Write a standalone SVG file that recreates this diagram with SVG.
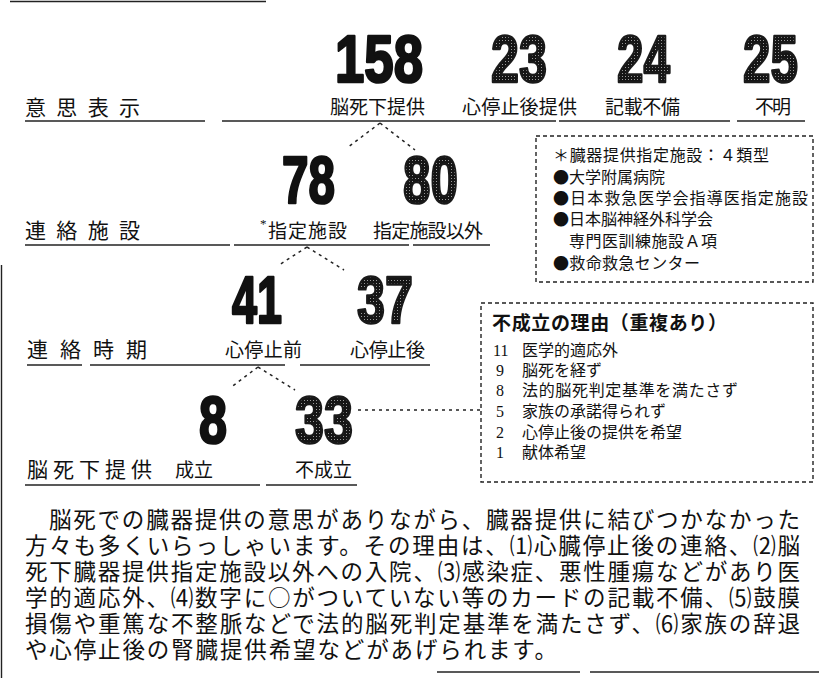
<svg xmlns="http://www.w3.org/2000/svg" width="819" height="681" viewBox="0 0 819 681">
<defs>
<style>
.lbl{font-family:"Liberation Serif","Noto Sans CJK JP",serif;fill:#111}
.row{font-size:21px}
.item{font-size:19px}
.num{font-family:"Liberation Sans",Arial,sans-serif;font-weight:bold;font-size:66px;stroke-width:2.6;stroke-linejoin:round}
.solid{fill:#111;stroke:#111}
.dot{fill:url(#stip);stroke:#1a1a1a}
.rule{stroke:#222;stroke-width:1.4;fill:none}
.br{stroke:#222;stroke-width:1.5;stroke-dasharray:3 4;fill:none}
.box{fill:none;stroke:#222;stroke-width:1.4;stroke-dasharray:4 3}
.bx{font-family:"Noto Sans CJK JP",sans-serif;font-size:16px;fill:#111}
.bt{font-family:"Noto Sans CJK JP",sans-serif;font-size:19px;font-weight:bold;fill:#111}
.dg{font-family:"Liberation Serif",serif;font-size:16px;fill:#111}
.para{font-family:"Noto Sans CJK JP",sans-serif;font-size:22.5px;fill:#111}
</style>
<pattern id="stip" width="3" height="3" patternUnits="userSpaceOnUse"><rect width="3" height="3" fill="#151515"/><rect x="1" y="1" width="1" height="1" fill="#9a9a9a"/></pattern>
</defs>
<rect width="819" height="681" fill="#fff"/>

<g id="frame" class="rule">
<line x1="10" y1="1.5" x2="266" y2="1.5"/>
<line x1="1.5" y1="265" x2="1.5" y2="678"/>
<line x1="437" y1="672" x2="580" y2="672"/>
<line x1="590" y1="672" x2="819" y2="672"/>
</g>

<g id="rules" class="rule">
<line x1="25" y1="121" x2="205" y2="121"/><line x1="222" y1="121" x2="556" y2="121"/><line x1="559" y1="121" x2="730" y2="121"/><line x1="737" y1="121" x2="805" y2="121"/>
<line x1="25" y1="245" x2="230" y2="245"/><line x1="234" y1="245" x2="409" y2="245"/><line x1="413" y1="245" x2="490" y2="245"/>
<line x1="27" y1="365" x2="82" y2="365"/><line x1="90" y1="365" x2="285" y2="365"/><line x1="300" y1="365" x2="430" y2="365"/>
<line x1="25" y1="485" x2="260" y2="485"/><line x1="266" y1="485" x2="357" y2="485"/>
</g>

<g id="row-labels" class="lbl row">
<text id="r1" x="25" y="115" textLength="115" lengthAdjust="spacing">意思表示</text>
<text id="r2" x="25" y="238" textLength="115" lengthAdjust="spacing">連絡施設</text>
<text id="r3" x="27" y="357" textLength="120" lengthAdjust="spacing">連絡時期</text>
<text id="r4" x="27" y="477" textLength="125" lengthAdjust="spacing">脳死下提供</text>
</g>

<g id="n158"><text class="num solid" x="335" y="82" textLength="88" lengthAdjust="spacingAndGlyphs">158</text><text class="lbl item" x="330" y="114" textLength="95" lengthAdjust="spacing">脳死下提供</text></g>
<g id="n23"><text class="num dot" x="491" y="82" textLength="56" lengthAdjust="spacingAndGlyphs">23</text><text class="lbl item" x="462" y="114" textLength="115" lengthAdjust="spacing">心停止後提供</text></g>
<g id="n24"><text class="num dot" x="617" y="82" textLength="53" lengthAdjust="spacingAndGlyphs">24</text><text class="lbl item" x="605" y="114" textLength="75" lengthAdjust="spacing">記載不備</text></g>
<g id="n25"><text class="num dot" x="743" y="82" textLength="55" lengthAdjust="spacingAndGlyphs">25</text><text class="lbl item" x="755" y="114" textLength="36" lengthAdjust="spacing">不明</text></g>

<g id="n78"><text class="num solid" x="282" y="203" textLength="53" lengthAdjust="spacingAndGlyphs">78</text><text class="lbl" x="260" y="228" font-size="13">*</text><text class="lbl item" x="268" y="238" textLength="79" lengthAdjust="spacing">指定施設</text></g>
<g id="n80"><text class="num dot" x="403" y="203" textLength="55" lengthAdjust="spacingAndGlyphs">80</text><text class="lbl item" x="373" y="238" textLength="110" lengthAdjust="spacing">指定施設以外</text></g>

<g id="n41"><text class="num solid" x="232" y="323" textLength="50" lengthAdjust="spacingAndGlyphs">41</text><text class="lbl item" x="225" y="357" textLength="77" lengthAdjust="spacing">心停止前</text></g>
<g id="n37"><text class="num dot" x="357" y="323" textLength="56" lengthAdjust="spacingAndGlyphs">37</text><text class="lbl item" x="350" y="357" textLength="75" lengthAdjust="spacing">心停止後</text></g>

<g id="n8"><text class="num solid" x="199" y="443" textLength="28" lengthAdjust="spacingAndGlyphs">8</text><text class="lbl item" x="175" y="477" textLength="38" lengthAdjust="spacing">成立</text></g>
<g id="n33"><text class="num dot" x="295" y="443" textLength="58" lengthAdjust="spacingAndGlyphs">33</text><text class="lbl item" x="295" y="477" textLength="57" lengthAdjust="spacing">不成立</text></g>

<g id="connectors" class="br">
<line x1="380" y1="123" x2="347" y2="148"/><line x1="380" y1="123" x2="415" y2="150"/>
<line x1="307" y1="247" x2="279" y2="265"/><line x1="307" y1="247" x2="344" y2="270"/>
<line x1="258" y1="367" x2="230" y2="388"/><line x1="258" y1="367" x2="295" y2="390"/>
<line x1="358" y1="410" x2="481" y2="410"/>
</g>

<g id="facility-box">
<rect class="box" x="536" y="136" width="277" height="146"/>
<text class="bx" x="553" y="161" textLength="216" lengthAdjust="spacing">＊臓器提供指定施設：４類型</text>
<text class="bx" x="553" y="183" textLength="112" lengthAdjust="spacing">●大学附属病院</text>
<text class="bx" x="553" y="204" textLength="255" lengthAdjust="spacing">●日本救急医学会指導医指定施設</text>
<text class="bx" x="553" y="225" textLength="160" lengthAdjust="spacing">●日本脳神経外科学会</text>
<text class="bx" x="569" y="247" textLength="148" lengthAdjust="spacing">専門医訓練施設Ａ項</text>
<text class="bx" x="553" y="269" textLength="147" lengthAdjust="spacing">●救命救急センター</text>
</g>

<g id="reason-box">
<rect class="box" x="481" y="303" width="332" height="179"/>
<text class="bt" x="492" y="330" textLength="235" lengthAdjust="spacing">不成立の理由（重複あり）</text>
<text class="dg" x="493" y="356">11</text><text class="bx" x="522" y="356">医学的適応外</text>
<text class="dg" x="496" y="376">9</text><text class="bx" x="522" y="376">脳死を経ず</text>
<text class="dg" x="496" y="396">8</text><text class="bx" x="522" y="396" textLength="216" lengthAdjust="spacing">法的脳死判定基準を満たさず</text>
<text class="dg" x="496" y="417">5</text><text class="bx" x="522" y="417">家族の承諾得られず</text>
<text class="dg" x="496" y="438">2</text><text class="bx" x="522" y="438">心停止後の提供を希望</text>
<text class="dg" x="496" y="458">1</text><text class="bx" x="522" y="458">献体希望</text>
</g>

<g id="paragraph" class="para">
<text x="49" y="528" textLength="751" lengthAdjust="spacing">脳死での臓器提供の意思がありながら、臓器提供に結びつかなかった</text>
<text x="25" y="554" textLength="775" lengthAdjust="spacing">方々も多くいらっしゃいます。その理由は、⑴心臓停止後の連絡、⑵脳</text>
<text x="25" y="580" textLength="775" lengthAdjust="spacing">死下臓器提供指定施設以外への入院、⑶感染症、悪性腫瘍などがあり医</text>
<text x="25" y="606" textLength="775" lengthAdjust="spacing">学的適応外、⑷数字に○がついていない等のカードの記載不備、⑸鼓膜</text>
<text x="25" y="632" textLength="775" lengthAdjust="spacing">損傷や重篤な不整脈などで法的脳死判定基準を満たさず、⑹家族の辞退</text>
<text x="25" y="658" textLength="532" lengthAdjust="spacing">や心停止後の腎臓提供希望などがあげられます。</text>
</g>
</svg>
